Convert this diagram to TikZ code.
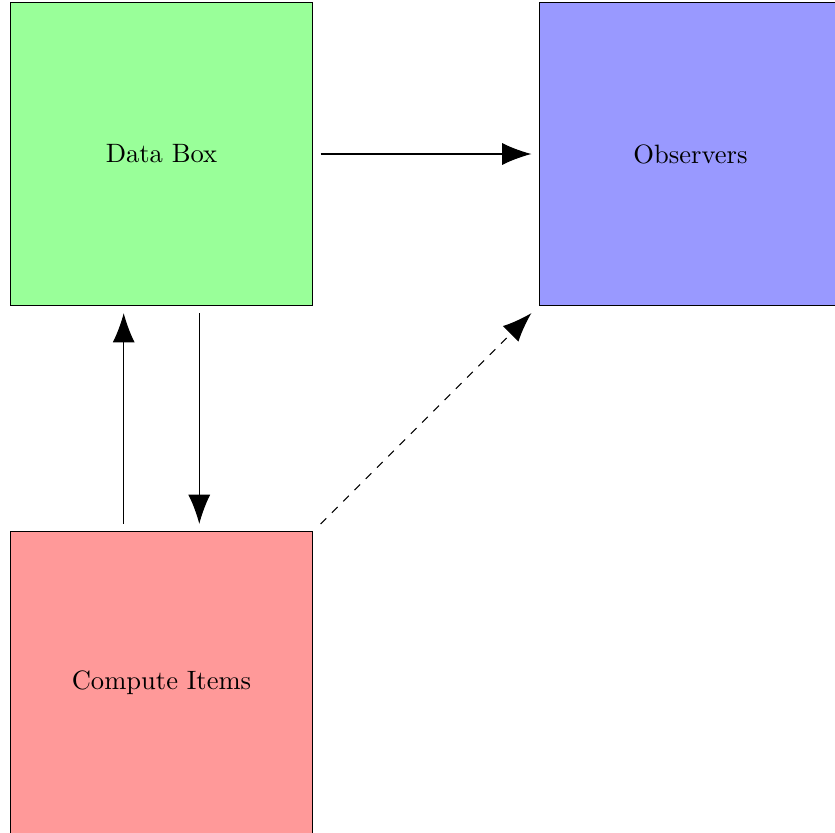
\documentclass[tikz,border=0pt]{standalone}
\usetikzlibrary{arrows.meta}
\begin{document}
\begin{tikzpicture}[
  blk/.style={draw, minimum size=4cm, outer sep=3pt, inner sep=0pt},
  arr/.style={-{Latex[length=11pt,width=8.3pt]}}
]
\useasboundingbox (-2.137,-8.972) rectangle (8.912,2.038);
\node[blk, fill=green!40] (data) at (0,0) {Data Box};
\node[blk, fill=blue!40] (obs) at (7,0) {Observers};
\node[blk, fill=red!40] (comp) at (0,-7) {Compute Items};
\draw[arr] (data) -- (obs);
\draw[arr] ([xshift=-0.5cm]comp.north) -- ([xshift=-0.5cm]data.south);
\draw[arr] ([xshift=0.5cm]data.south) -- ([xshift=0.5cm]comp.north);
\draw[arr, dashed] (comp.north east) -- (obs.south west);
\end{tikzpicture}
\end{document}
